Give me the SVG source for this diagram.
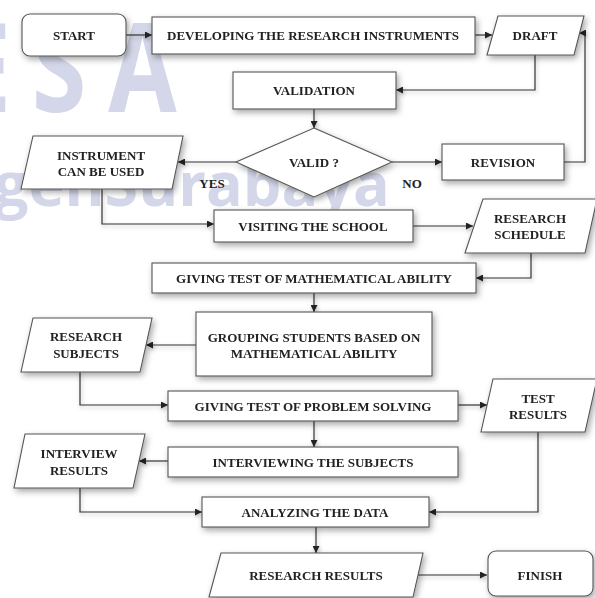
<svg xmlns="http://www.w3.org/2000/svg" width="595" height="598" viewBox="0 0 595 598">
<defs>
<style>
.node{fill:#fff;stroke:#555;stroke-width:1.1}
.t{font-family:"Liberation Serif","Times New Roman",serif;font-weight:bold;font-size:13px;fill:#222;text-anchor:middle;dominant-baseline:central}
.c{fill:none;stroke:#333;stroke-width:1.2}
.wm{font-family:"Open Sans","Noto Sans",sans-serif;font-weight:bold;fill:#d3d7e9}
</style>
<filter id="sh" x="-20%" y="-40%" width="140%" height="180%">
<feDropShadow dx="2" dy="3" stdDeviation="3" flood-color="#000" flood-opacity="0.35"/>
</filter>
<filter id="shc" x="-20%" y="-40%" width="140%" height="180%">
<feDropShadow dx="1" dy="2" stdDeviation="2" flood-color="#000" flood-opacity="0.3"/>
</filter>
<marker id="ah" viewBox="0 0 10 10" refX="10" refY="5" markerWidth="7" markerHeight="7" markerUnits="userSpaceOnUse" orient="auto">
<path d="M0,0 L10,5 L0,10 z" fill="#222"/>
</marker>
</defs>
<rect width="595" height="598" fill="#fff"/>
<g id="watermark">
<text class="wm" transform="scale(0.8,1)" x="-21 74 178" y="112" font-size="124" text-anchor="middle">ESA</text>
<text class="wm" x="-6" y="206" font-size="61">genSurabaya</text>
</g>
<g id="connectors" filter="url(#shc)">
<path class="c" d="M126,35 H152" marker-end="url(#ah)"/>
<path class="c" d="M475,35 H492" marker-end="url(#ah)"/>
<path class="c" d="M535,55 V90 H396" marker-end="url(#ah)"/>
<path class="c" d="M314,109 V128" marker-end="url(#ah)"/>
<path class="c" d="M236,162 H178" marker-end="url(#ah)"/>
<path class="c" d="M392,162 H442" marker-end="url(#ah)"/>
<path class="c" d="M564,162 H585 V33 H579" marker-end="url(#ah)"/>
<path class="c" d="M102,189 V224 H214" marker-end="url(#ah)"/>
<path class="c" d="M413,226 H473" marker-end="url(#ah)"/>
<path class="c" d="M531,253 V278 H476" marker-end="url(#ah)"/>
<path class="c" d="M314,293 V312" marker-end="url(#ah)"/>
<path class="c" d="M196,345 H146" marker-end="url(#ah)"/>
<path class="c" d="M80,372 V405 H168" marker-end="url(#ah)"/>
<path class="c" d="M458,405 H487" marker-end="url(#ah)"/>
<path class="c" d="M314,421 V447" marker-end="url(#ah)"/>
<path class="c" d="M168,461 H139" marker-end="url(#ah)"/>
<path class="c" d="M538,432 V512 H429" marker-end="url(#ah)"/>
<path class="c" d="M80,488 V512 H202" marker-end="url(#ah)"/>
<path class="c" d="M316,527 V553" marker-end="url(#ah)"/>
<path class="c" d="M418,575 H487" marker-end="url(#ah)"/>
</g>
<g id="labels">
<text class="t" x="212" y="183">YES</text>
<text class="t" x="412" y="183">NO</text>
</g>
<g id="start" filter="url(#sh)">
<rect class="node" x="22" y="14" width="104" height="42" rx="8"/>
<text class="t" x="74" y="35">START</text>
</g>
<g id="developing" filter="url(#sh)">
<rect class="node" x="152" y="17" width="323" height="37"/>
<text class="t" x="313" y="35">DEVELOPING THE RESEARCH INSTRUMENTS</text>
</g>
<g id="draft" filter="url(#sh)">
<polygon class="node" points="498,16 584,16 574,55 487,55"/>
<text class="t" x="535" y="35">DRAFT</text>
</g>
<g id="validation" filter="url(#sh)">
<rect class="node" x="233" y="72" width="163" height="37"/>
<text class="t" x="314" y="90">VALIDATION</text>
</g>
<g id="valid" filter="url(#sh)">
<polygon class="node" points="314,128 392,162 314,197 236,162"/>
<text class="t" x="314" y="162">VALID ?</text>
</g>
<g id="instrument" filter="url(#sh)">
<polygon class="node" points="33,136 183,136 172,189 21,189"/>
<text class="t" x="101" y="155">INSTRUMENT</text>
<text class="t" x="101" y="171">CAN BE USED</text>
</g>
<g id="revision" filter="url(#sh)">
<rect class="node" x="442" y="144" width="122" height="36"/>
<text class="t" x="503" y="162">REVISION</text>
</g>
<g id="visiting" filter="url(#sh)">
<rect class="node" x="214" y="210" width="199" height="32"/>
<text class="t" x="313" y="226">VISITING  THE SCHOOL</text>
</g>
<g id="schedule" filter="url(#sh)">
<polygon class="node" points="483,199 597,199 585,253 465,253"/>
<text class="t" x="530" y="218">RESEARCH</text>
<text class="t" x="530" y="234">SCHEDULE</text>
</g>
<g id="test-math" filter="url(#sh)">
<rect class="node" x="152" y="263" width="324" height="30"/>
<text class="t" x="314" y="278">GIVING TEST OF MATHEMATICAL  ABILITY</text>
</g>
<g id="grouping" filter="url(#sh)">
<rect class="node" x="196" y="312" width="236" height="64"/>
<text class="t" x="314" y="337">GROUPING STUDENTS BASED ON</text>
<text class="t" x="314" y="353">MATHEMATICAL  ABILITY</text>
</g>
<g id="subjects" filter="url(#sh)">
<polygon class="node" points="33,318 152,318 140,372 21,372"/>
<text class="t" x="86" y="336">RESEARCH</text>
<text class="t" x="86" y="353">SUBJECTS</text>
</g>
<g id="test-problem" filter="url(#sh)">
<rect class="node" x="168" y="391" width="290" height="30"/>
<text class="t" x="313" y="406">GIVING TEST OF PROBLEM SOLVING</text>
</g>
<g id="test-results" filter="url(#sh)">
<polygon class="node" points="493,379 597,379 585,432 481,432"/>
<text class="t" x="538" y="398">TEST</text>
<text class="t" x="538" y="414">RESULTS</text>
</g>
<g id="interviewing" filter="url(#sh)">
<rect class="node" x="168" y="447" width="290" height="30"/>
<text class="t" x="313" y="462">INTERVIEWING  THE SUBJECTS</text>
</g>
<g id="interview-results" filter="url(#sh)">
<polygon class="node" points="25,434 145,434 133,488 14,488"/>
<text class="t" x="79" y="453">INTERVIEW</text>
<text class="t" x="79" y="470">RESULTS</text>
</g>
<g id="analyzing" filter="url(#sh)">
<rect class="node" x="202" y="497" width="227" height="30"/>
<text class="t" x="315" y="512">ANALYZING  THE DATA</text>
</g>
<g id="research-results" filter="url(#sh)">
<polygon class="node" points="221,553 423,553 413,597 209,597"/>
<text class="t" x="316" y="575">RESEARCH RESULTS</text>
</g>
<g id="finish" filter="url(#sh)">
<rect class="node" x="488" y="551" width="105" height="45" rx="8"/>
<text class="t" x="540" y="575">FINISH</text>
</g>
</svg>
